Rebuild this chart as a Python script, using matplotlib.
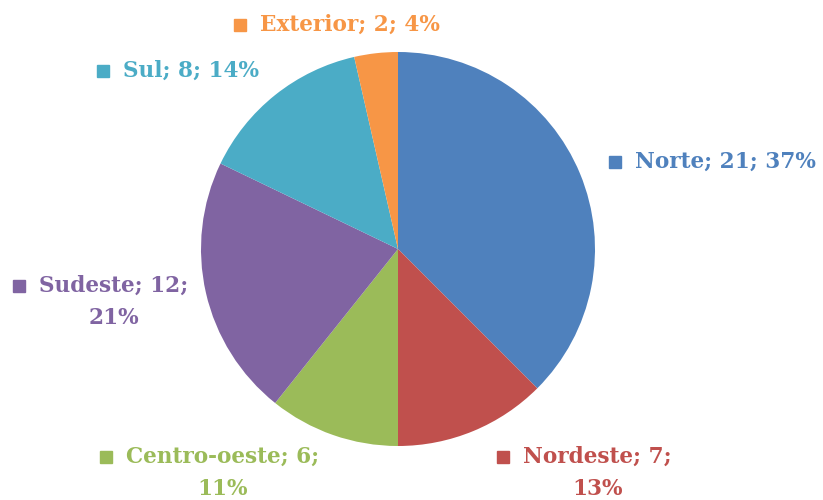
import matplotlib.pyplot as plt

regioes = ["Norte", "Nordeste", "Centro-oeste", "Sudeste", "Sul", "Exterior"]
valores = [21, 7, 6, 12, 8, 2]
percentuais = ["37%", "13%", "11%", "21%", "14%", "4%"]
cores = ["#4F81BD", "#C0504D", "#9BBB59", "#8064A2", "#4BACC6", "#F79646"]

fig = plt.figure(figsize=(8.23, 5.0), dpi=100)
ax = fig.add_axes([0, 0, 1, 1])

ax.pie(valores, colors=cores, startangle=90, counterclock=False,
       center=(398, 251), radius=197, frame=True)
ax.set_xlim(0, 823)
ax.set_ylim(0, 500)
ax.set_aspect("equal")
ax.axis("off")

# posição dos rótulos (quadrado, quebra de linha)
rotulos = {
    "Norte":        (615, 338, False),
    "Nordeste":     (503, 43, True),
    "Centro-oeste": (106, 43, True),
    "Sudeste":      (19, 214, True),
    "Sul":          (103, 429, False),
    "Exterior":     (240, 475, False),
}

fonte = dict(family="DejaVu Serif", fontweight="bold", fontsize=15.6)
for nome, v, p, cor in zip(regioes, valores, percentuais, cores):
    xq, yq, quebra = rotulos[nome]
    ax.plot(xq, yq, marker="s", markersize=9, color=cor, linestyle="none")
    if quebra:
        t = ax.text(xq + 20, yq, f"{nome}; {v};", color=cor, ha="left", va="center", **fonte)
        fig.canvas.draw()
        bb = t.get_window_extent()
        xc = (bb.x0 + bb.x1) / 2
        ax.text(xc, yq - 32, p, color=cor, ha="center", va="center", **fonte)
    else:
        ax.text(xq + 20, yq, f"{nome}; {v}; {p}", color=cor, ha="left", va="center", **fonte)

fig.savefig("out.png", dpi=100)
